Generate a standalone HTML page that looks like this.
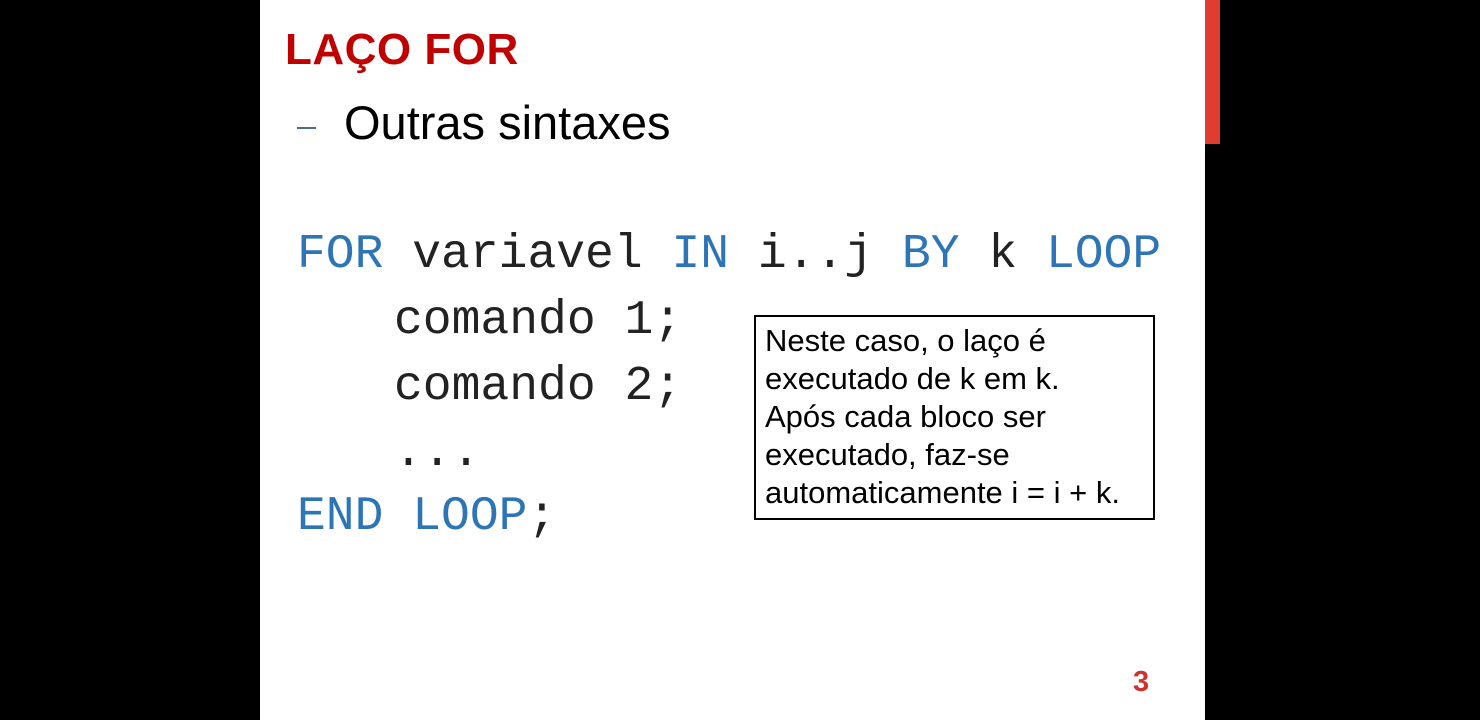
<!DOCTYPE html>
<html><head><meta charset="utf-8"><style>
body{margin:0;width:1480px;height:720px;background:#000;position:relative;overflow:hidden;font-family:"Liberation Sans",sans-serif}
.slide{position:absolute;left:260px;top:0;width:945px;height:720px;background:#fff}
.bar{position:absolute;left:1205px;top:0;width:15px;height:144px;background:#e03c31}
.a{position:absolute;white-space:pre;line-height:1}
.code{font-family:"Liberation Mono",monospace;font-size:48px;color:#222}
.k{color:#2e75b6}
</style></head><body>
<div class="slide"></div>
<div class="bar"></div>
<div class="a" style="left:285px;top:28px;font-size:44px;font-weight:bold;color:#c00000;letter-spacing:0.5px">LAÇO FOR</div>
<div class="a" style="left:297px;top:127px;width:19px;height:2px;background:#4a6a94"></div>
<div class="a" style="left:344px;top:99px;font-size:47px;color:#000">Outras sintaxes</div>
<div class="a code" style="left:297px;top:231px"><span class="k">FOR</span> variavel <span class="k">IN</span> i..j <span class="k">BY</span> k <span class="k">LOOP</span></div>
<div class="a code" style="left:394px;top:297px">comando 1;</div>
<div class="a code" style="left:394px;top:363px">comando 2;</div>
<div class="a code" style="left:394px;top:429px">...</div>
<div class="a code" style="left:297px;top:493px"><span class="k">END LOOP</span>;</div>
<div class="a" style="left:754px;top:315px;width:397px;height:201px;border:2px solid #000"></div>
<div class="a" style="left:765px;top:322px;font-size:31px;line-height:38px;color:#000">Neste caso, o laço é
executado de k em k.
Após cada bloco ser
executado, faz-se
automaticamente i = i + k.</div>
<div class="a" style="left:1133px;top:668px;font-size:29px;font-weight:bold;color:#d0312d">3</div>
</body></html>
